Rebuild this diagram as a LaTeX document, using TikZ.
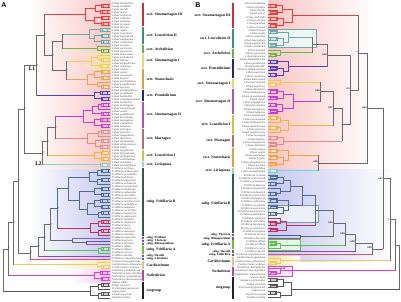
\documentclass[tikz,border=0pt]{standalone}
\usepackage{fontspec}
\setmainfont{Liberation Serif}
\setsansfont{Liberation Sans}
\usetikzlibrary{calc}
\definecolor{cSinIII}{HTML}{E0403F}
\definecolor{cLeuII}{HTML}{6FA8A8}
\definecolor{cArch}{HTML}{66BB44}
\definecolor{cSinI}{HTML}{F0CC50}
\definecolor{cNomo}{HTML}{EDA24A}
\definecolor{cPseudo}{HTML}{5540C0}
\definecolor{cSinII}{HTML}{C43CD8}
\definecolor{cMart}{HTML}{E58A8A}
\definecolor{cLeuI}{HTML}{E8B642}
\definecolor{cLirio}{HTML}{7ED6CC}
\definecolor{cFritB}{HTML}{4C6E96}
\definecolor{cFritBb}{HTML}{C0305E}
\definecolor{cPet}{HTML}{8060C0}
\definecolor{cThe}{HTML}{6050B0}
\definecolor{cRhi}{HTML}{9050A0}
\definecolor{cFritA}{HTML}{5CC050}
\definecolor{cDav}{HTML}{9A40C0}
\definecolor{cLio}{HTML}{E05070}
\definecolor{cCard}{HTML}{E8CC60}
\definecolor{cNotho}{HTML}{E040C8}
\definecolor{cOut}{HTML}{555555}
\definecolor{cBB}{HTML}{6A6A6A}
\definecolor{bSinIII}{HTML}{C8323C}
\definecolor{bLeuII}{HTML}{3E8C8C}
\definecolor{bArch}{HTML}{6AB04A}
\definecolor{bSinI}{HTML}{E8D870}
\definecolor{bNomo}{HTML}{D9A050}
\definecolor{bPseudo}{HTML}{1E2A78}
\definecolor{bSinII}{HTML}{B050C8}
\definecolor{bMart}{HTML}{B07070}
\definecolor{bLeuI}{HTML}{C8C850}
\definecolor{bLirio}{HTML}{8AD8D0}
\definecolor{bFritB}{HTML}{2E5E4A}
\definecolor{bFritA}{HTML}{70C040}
\definecolor{bSub}{HTML}{7050A0}
\definecolor{bCard}{HTML}{D8C890}
\definecolor{bNotho}{HTML}{C040A0}
\definecolor{bOut}{HTML}{222222}
\definecolor{pinkbg}{HTML}{F8C6C4}
\definecolor{bluebg}{HTML}{C6C8F0}

\newcommand\xtip{110}
\newcommand\xdir{1}
\newcommand\yoff{4}
\newcommand\ysp{3}
\newcommand\setnd[4]{%
  \expandafter\xdef\csname nyX#1\endcsname{#3}%
  \expandafter\xdef\csname ncX#1\endcsname{#4}%
  \coordinate (#1) at (#2,#3);}
\newcommand\tipnd[3]{%
  \pgfmathsetmacro\tipy{\yoff+\ysp*#2}%
  \setnd{#1}{\xtip}{\tipy}{#3}}
\newcommand\nd[5]{%
  \pgfmathsetmacro\ndy{(\csname nyX#3\endcsname+\csname nyX#4\endcsname)/2}%
  \setnd{#1}{#2}{\ndy}{#5}%
  \edef\ndca{\csname ncX#3\endcsname}\edef\ndcb{\csname ncX#4\endcsname}%
  \draw[br,draw=\ndca] (#3) -- (#1|-#3);%
  \draw[br,draw=\ndcb] (#4) -- (#1|-#4);%
  \draw[br,draw=#5] (#1|-#3) -- (#1|-#4);}
\newcommand\clade[4]{%
  \ifnum#2=#3\relax
    \tipnd{#1}{#2}{#4}%
  \else
    \begingroup
    \pgfmathtruncatemacro\cma{#2+floor((#3-#2)*ifthenelse(mod(#2+#3,3)==0,0.34,0.5))}%
    \pgfmathtruncatemacro\cmb{\cma+1}%
    \edef\cnext{\noexpand\clade{#1l}{#2}{\cma}{#4}\noexpand\clade{#1r}{\cmb}{#3}{#4}}%
    \cnext
    \pgfmathsetmacro\cx{\xtip-\xdir*(3+5.5*(#3-#2)^0.7+mod(#2*7+#3*3,3)*0.4)}%
    \nd{#1}{\cx}{#1l}{#1r}{#4}%
    \ifnum\numexpr#3-#2\relax=1
      \path (#1) ++(\xdir*4,0) node[cbox,draw=#4,fill=#4!30] (#1bx) {};%
    \fi
    \endgroup
  \fi}
\newcommand\secA[5]{%
  \draw[bar,draw=#4] (143,{\yoff+\ysp*#2-1.2}) -- (143,{\yoff+\ysp*#3+1.2});
  \node[slA] (#1) at (146.5,{\yoff+\ysp*(#2+#3)/2}) {#5};}
\newcommand\secB[5]{%
  \draw[bar,draw=#4] (233,{\yoff+\ysp*#2-1.2}) -- (233,{\yoff+\ysp*#3+1.2});
  \node[slB] (#1) at (230.5,{\yoff+\ysp*(#2+#3)/2}) {#5};}
\newcommand\supl[3]{\node[sup,#3] (sp#1) at (#1) {#2};}
\newcommand\smallsub{\fontsize{3.1}{3.1}\selectfont}

\begin{document}
\begin{tikzpicture}[x=1pt,y=-1pt,
  br/.style={line width=0.75pt,line cap=rect},
  bar/.style={line width=1.6pt},
  tl/.style={font=\fontsize{2.8}{3}\selectfont\itshape,text=black!75,inner sep=0pt},
  slA/.style={font=\fontsize{3.7}{4}\selectfont\bfseries,anchor=west,inner sep=0pt},
  slB/.style={font=\fontsize{3.7}{4}\selectfont\bfseries,anchor=east,inner sep=0pt},
  cbox/.style={minimum width=5.5pt,minimum height=2.6pt,inner sep=0pt,line width=0.3pt},
  hbox/.style={line width=0.4pt},
  sup/.style={font=\fontsize{2.4}{2.4}\selectfont\bfseries,inner sep=0.3pt},
  pl/.style={font=\sffamily\bfseries\fontsize{7}{7}\selectfont,inner sep=0pt},
  lab/.style={font=\bfseries\fontsize{5.5}{5.5}\selectfont,inner sep=0pt}]
\useasboundingbox (0,0) rectangle (401,302);

% ---------- backgrounds ----------
\shade[left color=white,right color=pinkbg] (28,1) rectangle (111,169);
\shade[left color=white,right color=bluebg] (28,169) rectangle (111,261);
\shade[left color=pinkbg!63!white,right color=cSinI!55!white] (80,53) rectangle (111,70);
\shade[left color=white,right color=cCard!45!white] (50,260) rectangle (111,270);
\shade[left color=white,right color=cNotho!30!white] (70,269) rectangle (111,282);
\shade[left color=pinkbg,right color=white] (268,1) rectangle (375,169);
\shade[left color=bluebg,right color=white] (268,169) rectangle (395,261);
\shade[left color=cCard!60!white,right color=white] (268,256) rectangle (300,266);
\filldraw[hbox,draw=cLeuII,fill=cLeuII!12] (268,29) rectangle (316,47);
\filldraw[hbox,draw=cFritA,fill=cFritA!15] (268,239) rectangle (300,250);
\filldraw[hbox,draw=cNotho,fill=cNotho!12] (268,266) rectangle (292,276.5);
\filldraw[hbox,draw=cFritB!70,fill=cFritB!10] (268,205) rectangle (318,222);

% ================= PANEL A =================
\renewcommand\xtip{110}\renewcommand\xdir{1}
\renewcommand\yoff{4}\renewcommand\ysp{3}
\clade{ASinIII}{0}{7}{cSinIII}
\clade{ALeuII}{8}{13}{cLeuII}
\clade{AArch}{14}{16}{cArch}
\clade{ASinI}{17}{21}{cSinI}
\clade{ANomo}{22}{28}{cNomo}
\clade{APseudo}{29}{32}{cPseudo}
\clade{ASinII}{33}{41}{cSinII}
\clade{AMart}{42}{48}{cMart}
\clade{ALeuI}{49}{52}{cLeuI}
\clade{ALirio}{53}{54}{cLirio}
\clade{AFBa}{55}{71}{cFritB}
\clade{AFBb}{72}{77}{cFritBb}
\tipnd{APet}{78}{cPet}
\tipnd{AThe}{79}{cThe}
\tipnd{ARhi}{80}{cRhi}
\clade{AFritA}{81}{83}{cFritA}
\tipnd{ADav}{84}{cDav}
\tipnd{ALio}{85}{cLio}
\clade{ACard}{86}{88}{cCard}
\clade{ANotho}{89}{92}{cNotho}
\clade{AOut}{93}{98}{cOut}

\nd{AFB}{57}{AFBa}{AFBb}{cFritB}
\nd{ATR}{86}{AThe}{ARhi}{cBB}
\nd{AFP}{72}{APet}{ATR}{cBB}
\nd{AF1}{50}{AFB}{AFP}{cBB}
\nd{AFA}{44}{AF1}{AFritA}{cBB}
\nd{AFD}{38}{AFA}{ADav}{cBB}
\nd{AFrit}{30}{AFD}{ALio}{cBB}
\nd{AA3}{62}{ALeuII}{AArch}{cBB}
\nd{AA4}{66}{ASinI}{ANomo}{cBB}
\nd{AA2}{52}{AA3}{AA4}{cBB}
\nd{AA1}{44}{ASinIII}{AA2}{cBB}
\nd{AL1}{36}{AA1}{APseudo}{cBB}
\nd{AL2m}{55}{ASinII}{AMart}{cBB}
\nd{AL2x}{47}{AL2m}{ALeuI}{cBB}
\nd{AL2}{42}{AL2x}{ALirio}{cBB}
\nd{ALil}{24}{AL1}{AL2}{cBB}
\nd{ALF}{18}{ALil}{AFrit}{cBB}
\nd{AI2}{13}{ALF}{ACard}{cBB}
\nd{AI1}{8}{AI2}{ANotho}{cBB}
\nd{AR}{3}{AI1}{AOut}{cBB}

\foreach \n in {AA1,AA2,AA4,AL1,AL2m,AL2x,AL2,ALil,ALF,AI2,AI1,AF1,AFA,AFD,AFrit,AFB}{\supl{\n}{*}{anchor=west}}

\node[lab] (lL1) at (32,69) {L1};
\node[lab] (lL2) at (38.5,163.5) {L2};

\foreach \nm [count=\i from 0] in {Lilium lancifolium,Lilium leichtlinii,Lilium davidii,Lilium henryi,Lilium rosthornii,Lilium callosum,Lilium pumilum,Lilium cernuum,
Lilium brownii,Lilium regale,Lilium sargentiae,Lilium leucanthum,Lilium sulphureum,Lilium centifolium,
Lilium auratum,Lilium speciosum,Lilium japonicum,
Lilium bakerianum,Lilium primulinum,Lilium taliense,Lilium lophophorum,Lilium nepalense,
Lilium nanum,Lilium souliei,Lilium saluenense,Lilium fargesii,Lilium pardanthinum,Lilium gongshanense,Lilium apertum,
Lilium philadelphicum,Lilium pardalinum,Lilium humboldtii,Lilium washingtonianum,
Lilium duchartrei,Lilium lankongense,Lilium stewartianum,Lilium wardii,Lilium papilliferum,Lilium brevistylum,Lilium matangense,Lilium xanthellum,Lilium habaense,
Lilium martagon,Lilium hansonii,Lilium tsingtauense,Lilium distichum,Lilium medeoloides,Lilium pilosiusculum,Lilium debile,
Lilium longiflorum,Lilium formosanum,Lilium philippinense,Lilium wallichianum,
Lilium candidum,Lilium monadelphum,
Fritillaria cirrhosa,Fritillaria unibracteata,Fritillaria przewalskii,Fritillaria delavayi,Fritillaria taipaiensis,Fritillaria sichuanica,Fritillaria crassicaulis,Fritillaria thunbergii,Fritillaria anhuiensis,Fritillaria monantha,Fritillaria ussuriensis,Fritillaria maximowiczii,Fritillaria pallidiflora,Fritillaria walujewii,Fritillaria verticillata,Fritillaria hupehensis,Fritillaria yuminensis,Fritillaria tortifolia,Fritillaria dajinensis,Fritillaria fusca,Fritillaria sinica,Fritillaria meleagris,Fritillaria montana,
Fritillaria imperialis,Fritillaria persica,Fritillaria karelinii,
Fritillaria affinis,Fritillaria biflora,Fritillaria recurva,
Fritillaria davidii,Fritillaria camschatcensis,
Cardiocrinum giganteum,Cardiocrinum cathayanum,Cardiocrinum cordatum,
Notholirion bulbuliferum,Notholirion macrophyllum,Notholirion campanulatum,Notholirion thomsonianum,
Amana edulis,Tulipa sylvestris,Erythronium japonicum,Gagea lutea,Lloydia oxycarpa,Lloydia serotina}
{\node[tl,anchor=west] (tA\i) at (112,{4+3*\i}) {\nm};}

\secA{LSinIII}{0}{7}{bSinIII}{sect. Sinomartagon III}
\secA{LLeuII}{8}{13}{bLeuII}{sect. Leucolirion II}
\secA{LArch}{14}{16}{bArch}{sect. Archelirion}
\secA{LSinI}{17}{21}{bSinI}{sect. Sinomartagon I}
\secA{LNomo}{22}{28}{bNomo}{sect. Nomocharis}
\secA{LPseudo}{29}{32}{bPseudo}{sect. Pseudolirium}
\secA{LSinII}{33}{41}{bSinII}{sect. Sinomartagon II}
\secA{LMart}{42}{48}{bMart}{sect. Martagon}
\secA{LLeuI}{49}{52}{bLeuI}{sect. Leucolirion I}
\secA{LLirio}{53}{54}{bLirio}{sect. Lirioptaea}
\secA{LFritB}{55}{77}{bFritB}{subg. Fritillaria B}
\secA{LPet}{78}{78}{bSub}{\smallsub subg. Petilium}
\secA{LThe}{79}{79}{bSub}{\smallsub subg. Theresia}
\secA{LRhi}{80}{80}{bSub}{\smallsub subg. Rhinopetalum}
\secA{LFritA}{81}{83}{bFritA}{subg. Fritillaria A}
\secA{LDav}{84}{84}{bSub}{\smallsub subg. Davidii}
\secA{LLio}{85}{85}{bSub}{\smallsub subg. Liliorhiza}
\secA{LCard}{86}{88}{bCard}{Cardiocrinum}
\secA{LNotho}{89}{92}{bNotho}{Notholirion}
\secA{LOut}{93}{98}{bOut}{outgroup}

% ================= PANEL B =================
\renewcommand\xtip{268}\renewcommand\xdir{-1}
\renewcommand\yoff{4}\renewcommand\ysp{3.3}
\clade{BSinIII}{0}{7}{cSinIII}
\clade{BLeuII}{8}{13}{cLeuII}
\clade{BArch}{14}{16}{cArch}
\clade{BPseudo}{17}{22}{cPseudo}
\clade{BSinI}{23}{25}{cSinI}
\clade{BSinII}{26}{33}{cSinII}
\clade{BLeuI}{34}{39}{cLeuI}
\clade{BMart}{40}{43}{cMart}
\clade{BNomo}{44}{49}{cNomo}
\clade{BLirio}{50}{51}{cLirio}
\clade{BFB1}{52}{64}{cFritB}
\clade{BFB2}{65}{69}{cFritBb}
\tipnd{BThe}{70}{cThe}
\tipnd{BRhi}{71}{cRhi}
\clade{BFritA}{72}{74}{cFritA}
\tipnd{BDav}{75}{cDav}
\tipnd{BLio}{76}{cLio}
\clade{BCard}{77}{79}{cCard}
\clade{BNotho}{80}{82}{cNotho}
\clade{BOut}{83}{89}{cOut}

\nd{BLA}{312}{BLeuII}{BArch}{cBB}
\nd{BLAP}{327}{BLA}{BPseudo}{cBB}
\nd{BS12}{320}{BSinI}{BSinII}{cBB}
\nd{BS12L}{333}{BS12}{BLeuI}{cBB}
\nd{BSM}{342}{BS12L}{BMart}{cBB}
\nd{BC1b}{350}{BLAP}{BSM}{cBB}
\nd{BC1}{358}{BSinIII}{BC1b}{cBB}
\nd{BNL}{318}{BNomo}{BLirio}{cBB}
\nd{BLil}{367}{BC1}{BNL}{cBB}
\nd{BFB}{315}{BFB1}{BFB2}{cFritB}
\nd{BTR}{300}{BThe}{BRhi}{cBB}
\nd{BFT}{333}{BFB}{BTR}{cBB}
\nd{BFA}{345}{BFT}{BFritA}{cBB}
\nd{BFD}{355}{BFA}{BDav}{cBB}
\nd{BFrit}{372}{BFD}{BLio}{cBB}
\nd{BLF}{383}{BLil}{BFrit}{cBB}
\nd{BC}{390}{BLF}{BCard}{cBB}
\nd{BN}{395}{BC}{BNotho}{cBB}
\nd{BR}{399.4}{BN}{BOut}{cBB}

\supl{BLAP}{0.98}{anchor=south east}
\supl{BS12}{0.98}{anchor=south east}
\supl{BS12L}{0.97}{anchor=south east}
\supl{BC1b}{0.5}{anchor=south east}
\supl{BC1}{*}{anchor=east}
\supl{BNL}{0.98}{anchor=south east}
\supl{BLil}{0.99}{anchor=east}
\supl{BFT}{0.99}{anchor=south east}
\supl{BFA}{0.99}{anchor=south east}
\supl{BFD}{0.98}{anchor=south east}
\supl{BFrit}{0.99}{anchor=south east}
\supl{BLF}{0.57}{anchor=east}
\supl{BC}{*}{anchor=east}
\supl{BNotho}{0.99}{anchor=south west}

\foreach \nm [count=\i from 0] in {Lilium lancifolium,Lilium leichtlinii,Lilium davidii,Lilium henryi,Lilium rosthornii,Lilium callosum,Lilium pumilum,Lilium cernuum,
Lilium brownii,Lilium regale,Lilium sargentiae,Lilium leucanthum,Lilium sulphureum,Lilium centifolium,
Lilium auratum,Lilium speciosum,Lilium japonicum,
Lilium philadelphicum,Lilium pardalinum,Lilium humboldtii,Lilium washingtonianum,Lilium superbum,Lilium canadense,
Lilium bakerianum,Lilium primulinum,Lilium nepalense,
Lilium duchartrei,Lilium lankongense,Lilium stewartianum,Lilium wardii,Lilium papilliferum,Lilium brevistylum,Lilium matangense,Lilium habaense,
Lilium longiflorum,Lilium formosanum,Lilium philippinense,Lilium wallichianum,Lilium puerense,Lilium neilgherrense,
Lilium martagon,Lilium hansonii,Lilium tsingtauense,Lilium distichum,
Lilium nanum,Lilium souliei,Lilium saluenense,Lilium fargesii,Lilium gongshanense,Lilium apertum,
Lilium candidum,Lilium monadelphum,
Fritillaria cirrhosa,Fritillaria unibracteata,Fritillaria przewalskii,Fritillaria delavayi,Fritillaria taipaiensis,Fritillaria sichuanica,Fritillaria crassicaulis,Fritillaria thunbergii,Fritillaria anhuiensis,Fritillaria monantha,Fritillaria ussuriensis,Fritillaria maximowiczii,Fritillaria pallidiflora,Fritillaria walujewii,Fritillaria verticillata,Fritillaria hupehensis,Fritillaria yuminensis,Fritillaria tortifolia,
Fritillaria persica,Fritillaria karelinii,
Fritillaria affinis,Fritillaria biflora,Fritillaria recurva,
Fritillaria davidii,Fritillaria camschatcensis,
Cardiocrinum giganteum,Cardiocrinum cathayanum,Cardiocrinum cordatum,
Notholirion bulbuliferum,Notholirion macrophyllum,Notholirion campanulatum,
Amana edulis,Amana erythronioides,Tulipa sylvestris,Erythronium japonicum,Gagea lutea,Lloydia oxycarpa,Lloydia serotina}
{\node[tl,anchor=east] (tB\i) at (265.5,{4+3.3*\i}) {\nm};}

\secB{MSinIII}{0}{7}{bSinIII}{sect. Sinomartagon III}
\secB{MLeuII}{8}{13}{bLeuII}{sect. Leucolirion II}
\secB{MArch}{14}{16}{bArch}{sect. Archelirion}
\secB{MPseudo}{17}{22}{bPseudo}{sect. Pseudolirium}
\secB{MSinI}{23}{25}{bSinI}{sect. Sinomartagon I}
\secB{MSinII}{26}{33}{bSinII}{sect. Sinomartagon II}
\secB{MLeuI}{34}{39}{bLeuI}{sect. Leucolirion I}
\secB{MMart}{40}{43}{bMart}{sect. Martagon}
\secB{MNomo}{44}{49}{bNomo}{sect. Nomocharis}
\secB{MLirio}{50}{51}{bLirio}{sect. Lirioptaea}
\secB{MFritB}{52}{69}{bFritB}{subg. Fritillaria B}
\secB{MThe}{70}{70}{bSub}{\smallsub subg. Theresia}
\secB{MRhi}{71}{71}{bSub}{\smallsub subg. Rhinopetalum}
\secB{MFritA}{72}{74}{bFritA}{subg. Fritillaria A}
\secB{MDav}{75}{75}{bSub}{\smallsub subg. Davidii}
\secB{MLio}{76}{76}{bSub}{\smallsub subg. Liliorhiza}
\secB{MCard}{77}{79}{bCard}{Cardiocrinum}
\secB{MNotho}{80}{82}{bNotho}{Notholirion}
\secB{MOut}{83}{89}{bOut}{outgroup}

\node[pl] (pA) at (4,5) {A};
\node[pl] (pB) at (198,5) {B};
\end{tikzpicture}
\end{document}
